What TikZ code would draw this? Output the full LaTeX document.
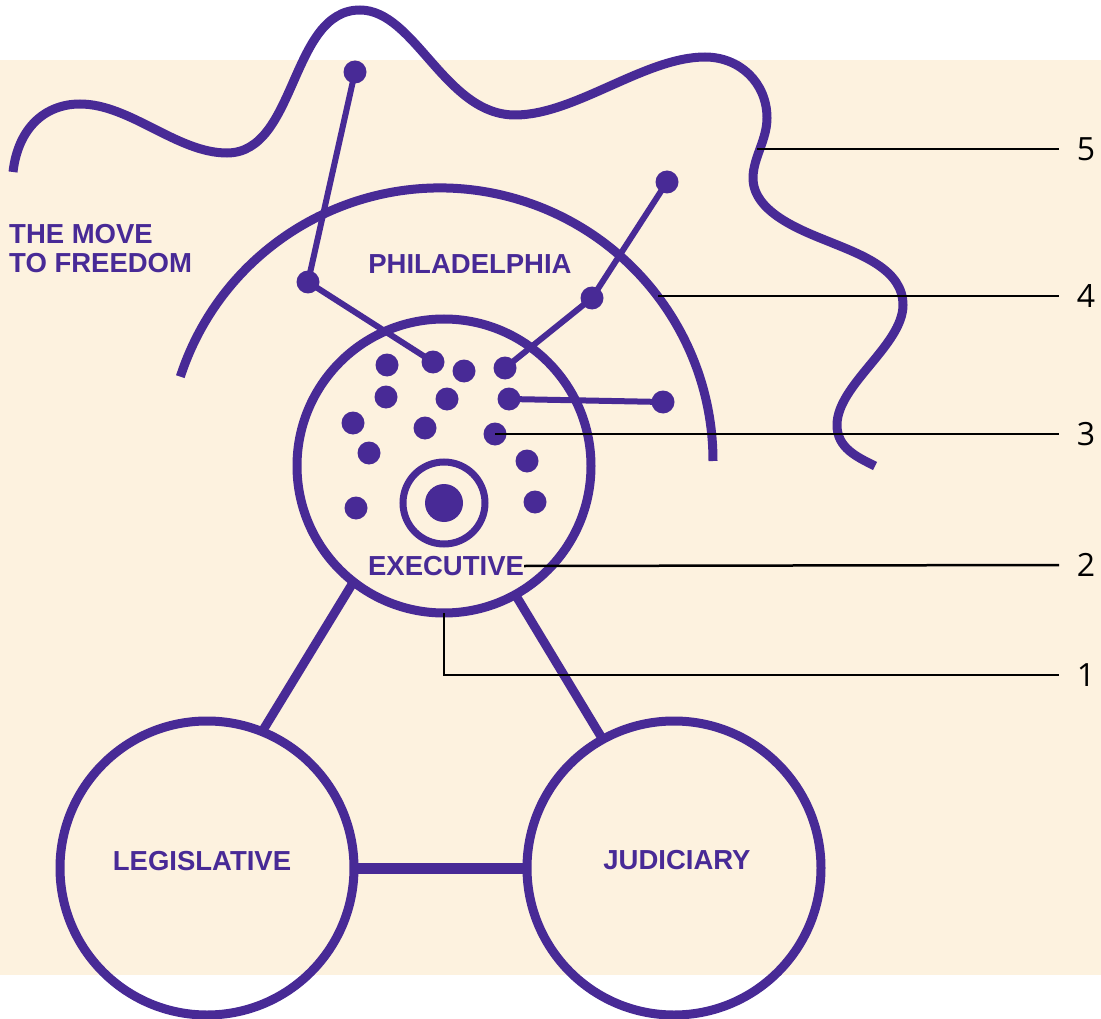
\documentclass[tikz,border=0pt]{standalone}
\usepackage{fontspec}
\setmainfont{Liberation Sans}
\newfontfamily\numfont{Open Sans}
\definecolor{pur}{RGB}{72,42,150}
\definecolor{cream}{RGB}{253,242,223}
\begin{document}
\begin{tikzpicture}[x=1pt,y=-1pt,
  ring/.style={circle, draw=pur, line width=9pt, minimum size=294pt, inner sep=0pt, outer sep=0pt},
  dot/.style={circle, fill=pur, minimum size=23pt, inner sep=0pt, outer sep=0pt},
  core/.style={circle, fill=pur, minimum size=38pt, inner sep=0pt, outer sep=0pt},
  hoop/.style={circle, draw=pur, line width=7pt, minimum size=82pt, inner sep=0pt, outer sep=0pt},
  lab/.style={text=pur, font=\bfseries\fontsize{27.5}{29}\selectfont, inner sep=0pt},
  num/.style={font=\numfont\fontsize{32}{32}\selectfont, inner sep=0pt},
  leader/.style={draw=black, line width=2.5pt},
  conn/.style={draw=pur, line width=6pt},
  band/.style={draw=pur, line width=9pt},
  bar/.style={draw=pur, line width=11pt},
]
\useasboundingbox (0,0) rectangle (1101,1019);
\fill[cream] (0,60) rectangle (1101,975);

% wavy line (5)
\draw[band] (13,172)
  .. controls (18,128) and (45,104) .. (80,104)
  .. controls (130,104) and (177,153) .. (227,153)
  .. controls (297,153) and (290,10) .. (360,10)
  .. controls (415,10) and (445,115) .. (515,115)
  .. controls (575,115) and (645,57) .. (705,57)
  .. controls (740,57) and (767,83) .. (767,118)
  .. controls (767,140) and (753,158) .. (753,178)
  .. controls (753,212) and (800,230) .. (830,242)
  .. controls (862,255) and (903,270) .. (903,305)
  .. controls (903,345) and (837,385) .. (837,425)
  .. controls (837,448) and (857,457) .. (875,466);

% Philadelphia arc (4)
\draw[band] (440,461) ++(198:273) arc[start angle=198, end angle=360, radius=273];

% main circles
\node[ring] (exec) at (444,466) {};
\node[ring] (leg) at (207,868) {};
\node[ring] (jud) at (674,868) {};
\draw[band] (exec.232.8) -- (leg.68.5);
\draw[band] (exec.299.5) -- (jud.119);
\draw[bar] (leg.east) -- (jud.west);

% dots inside executive
\node[dot] (d1) at (387,365) {};
\node[dot] (d2) at (433,362) {};
\node[dot] (d3) at (464,371) {};
\node[dot] (d4) at (505,368) {};
\node[dot] (d5) at (386,397) {};
\node[dot] (d6) at (447,399) {};
\node[dot] (d7) at (509,399) {};
\node[dot] (d8) at (353,423) {};
\node[dot] (d9) at (425,428) {};
\node[dot] (d10) at (495,434) {};
\node[dot] (d11) at (369,453) {};
\node[dot] (d12) at (527,461) {};
\node[dot] (d13) at (356,508) {};
\node[dot] (d14) at (535,502) {};
\node[hoop] (hoop) at (444,503) {};
\node[core] (core) at (444,503) {};

% connectors with dots
\node[dot] (c1) at (355,72) {};
\node[dot] (c1b) at (308,282) {};
\node[dot] (c2) at (667,182) {};
\node[dot] (c2b) at (592,298) {};
\node[dot] (c3) at (663,402) {};
\draw[conn] (c1.center) -- (c1b.center) -- (d2.center);
\draw[conn] (c2.center) -- (c2b.center) -- (d4.center);
\draw[conn] (d7.center) -- (c3.center);

% texts
\node[lab, anchor=north west, align=left] (move) at (9,224) {THE MOVE\\TO FREEDOM};
\node[lab] (phil) at (470,264) {PHILADELPHIA};
\node[lab] (exect) at (446,566) {EXECUTIVE};
\node[lab] (legt) at (202,861) {LEGISLATIVE};
\node[lab] (judt) at (677,860) {JUDICIARY};

% leader lines and numbers
\coordinate (p4) at (658,296);
\coordinate (p5) at (757,149);
\coordinate (e1) at (1059,675);
\coordinate (e2) at (1059,565);
\coordinate (e3) at (1059,434);
\coordinate (e4) at (1059,296);
\coordinate (e5) at (1059,149);
\node[num] (n1) at (1086,675) {1};
\node[num] (n2) at (1086,565) {2};
\node[num] (n3) at (1086,434) {3};
\node[num] (n4) at (1086,296) {4};
\node[num] (n5) at (1086,149) {5};
\draw[leader] (exec.south) |- (e1);
\draw[leader] (exect.east) -- (e2);
\draw[leader] (d10.center) -- (e3);
\draw[leader] (p4) -- (e4);
\draw[leader] (p5) -- (e5);
\end{tikzpicture}
\end{document}
